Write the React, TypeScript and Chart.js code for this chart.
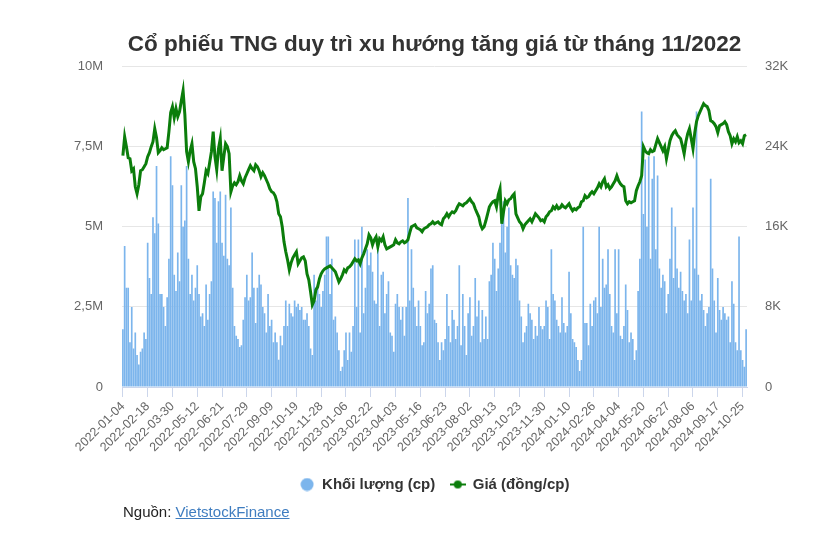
import React, { useEffect, useRef } from "react";
import { Chart, registerables } from "chart.js";

Chart.register(...registerables);

const title = "Cổ phiếu TNG duy trì xu hướng tăng giá từ tháng 11/2022";
const volumeLabel = "Khối lượng (cp)";
const priceLabel = "Giá (đồng/cp)";

// tick labels on the x axis, one every STEP sampled sessions
const tickDates = [
  "2022-01-04", "2022-02-18", "2022-03-30", "2022-05-12", "2022-06-21", "2022-07-29",
  "2022-09-09", "2022-10-19", "2022-11-28", "2023-01-06", "2023-02-22", "2023-04-03",
  "2023-05-16", "2023-06-23", "2023-08-02", "2023-09-13", "2023-10-23", "2023-11-30",
  "2024-01-10", "2024-02-26", "2024-04-04", "2024-05-20", "2024-06-27", "2024-08-06",
  "2024-09-17", "2024-10-25",
];
const STEP = 14;

// trading volume, millions of shares (sampled every 2nd session)
const volumeM = [
  1.8, 4.4, 3.1, 3.1, 1.4, 2.5, 1.2, 1.7, 1.0, 0.7, 1.1, 1.2, 1.7, 1.5, 4.5, 3.4, 2.9, 5.3, 4.8, 6.9,
  5.1, 2.9, 2.9, 2.5, 1.9, 2.8, 4.0, 7.2, 6.3, 3.5, 3.0, 4.2, 3.3, 6.3, 5.0, 5.2, 6.9, 4.0, 2.9, 3.5,
  2.7, 3.1, 3.8, 2.9, 2.2, 2.3, 1.9, 3.2, 2.1, 2.9, 3.3, 6.1, 5.9, 4.5, 5.8, 6.1, 4.5, 4.1, 6.0, 4.0,
  3.8, 5.6, 3.1, 1.9, 1.6, 1.5, 1.25, 1.3, 2.1, 2.8, 3.5, 2.7, 2.8, 4.2, 3.1, 2.0, 3.1, 3.5, 3.2, 2.5,
  2.3, 1.7, 2.9, 1.9, 2.1, 1.4, 1.7, 1.4, 0.85, 1.6, 1.3, 1.9, 2.7, 1.9, 2.6, 2.3, 2.2, 2.7, 2.5, 2.6,
  2.4, 2.5, 2.1, 2.1, 2.3, 1.9, 1.2, 1.0, 3.5, 2.7, 3.2, 2.9, 2.5, 3.0, 3.5, 4.7, 4.7, 2.9, 4.0, 2.1,
  2.2, 1.7, 1.15, 0.5, 0.63, 1.15, 1.7, 0.84, 1.7, 1.1, 1.9, 4.6, 2.5, 4.6, 1.7, 5.0, 2.3, 3.1, 4.3, 3.8,
  4.2, 3.6, 2.7, 2.6, 4.3, 1.9, 3.5, 3.6, 2.3, 2.9, 3.3, 1.7, 1.6, 1.1, 2.6, 2.9, 2.5, 2.1, 2.5, 1.6,
  2.5, 5.9, 2.7, 4.3, 3.1, 2.5, 1.9, 2.7, 1.9, 1.3, 1.4, 3.0, 2.3, 2.6, 3.7, 3.8, 2.1, 2.0, 1.4, 0.84,
  1.4, 1.15, 1.5, 2.9, 1.9, 1.4, 2.4, 2.1, 1.5, 1.9, 3.8, 1.3, 2.9, 1.9, 1.0, 2.3, 2.8, 1.6, 1.9, 3.4,
  2.2, 2.7, 1.4, 2.4, 1.5, 2.2, 1.5, 3.3, 3.5, 4.5, 4.0, 3.0, 3.7, 4.5, 5.1, 5.8, 4.2, 5.0, 5.6, 3.8,
  3.5, 3.4, 4.0, 3.8, 2.7, 2.2, 1.4, 1.7, 1.9, 2.6, 2.3, 2.1, 1.5, 1.9, 1.6, 2.5, 1.9, 1.8, 1.9, 2.7,
  2.5, 1.5, 4.3, 2.9, 2.7, 2.1, 1.9, 1.7, 2.8, 2.0, 1.7, 1.9, 3.6, 2.3, 1.5, 1.4, 1.25, 0.84, 0.5, 0.84,
  5.0, 2.0, 2.0, 1.3, 2.6, 1.9, 2.7, 2.8, 2.3, 5.0, 2.5, 4.0, 3.1, 3.2, 4.3, 2.9, 1.9, 1.7, 4.3, 2.3,
  4.3, 1.6, 1.5, 1.9, 3.2, 2.4, 1.4, 1.7, 1.5, 0.84, 1.15, 3.0, 4.0, 8.6, 5.4, 7.1, 5.0, 7.2, 4.0, 6.5,
  7.2, 4.3, 6.6, 3.7, 3.1, 3.5, 3.3, 2.3, 2.9, 4.0, 5.6, 3.4, 5.0, 3.7, 3.1, 3.6, 3.0, 2.7, 2.9, 2.3,
  4.6, 2.7, 5.6, 3.7, 8.6, 3.5, 2.7, 2.9, 2.4, 1.9, 2.3, 2.5, 6.5, 3.7, 2.7, 1.7, 3.4, 2.4, 2.1, 2.5,
  2.3, 2.1, 2.2, 1.4, 3.3, 2.6, 1.4, 1.15, 4.7, 1.15, 0.84, 0.63, 1.8,
];

// closing price, thousand đồng per share (same sessions)
const priceK = [
  23.1, 25.0, 24.0, 22.9, 22.8, 21.6, 21.8, 20.0, 19.3, 20.2, 21.6, 21.7, 22.0, 22.3, 23.0, 23.4, 24.0, 24.5, 25.8, 24.9,
  23.4, 23.6, 23.9, 23.7, 23.8, 23.9, 25.5, 27.4, 28.0, 26.9, 27.8, 27.0, 27.5, 28.6, 29.6, 27.2, 23.5, 22.5, 23.6, 24.3,
  22.5, 21.8, 20.0, 17.6, 19.0, 19.3, 20.4, 21.6, 21.3, 22.4, 23.5, 25.5, 23.0, 21.7, 23.8, 24.8, 21.6, 23.0, 24.3, 24.0,
  23.3, 19.5, 20.1, 20.4, 20.2, 20.5, 21.1, 20.6, 20.3, 20.9, 21.3, 21.7, 22.1, 21.8, 21.6, 22.2, 22.0, 21.6, 21.0, 21.4,
  21.1, 20.7, 20.3, 19.8, 19.5, 19.4, 19.1, 18.5, 17.3, 17.0, 16.0, 14.5, 13.5, 12.7, 11.7, 12.4, 12.9, 13.2, 13.5, 12.3,
  12.6, 12.9, 13.0, 12.6, 11.3, 10.7, 9.5, 8.2, 8.6, 9.7, 10.0, 10.8, 11.3, 11.6, 11.8, 11.9, 12.0, 12.1, 11.9, 11.7,
  11.5, 11.0, 10.5, 10.8, 11.2, 11.7, 11.5, 11.9, 12.0, 12.2, 12.5, 12.8, 12.6, 12.7, 12.3, 12.9, 13.3, 13.8, 14.3, 15.2,
  14.9, 14.2, 14.7, 15.0, 14.0, 14.8, 14.6, 15.0, 14.2, 13.8, 13.9, 14.0, 14.1, 14.2, 14.7, 14.4, 14.3, 14.5, 14.6, 14.4,
  14.5, 14.7, 15.4, 16.0, 16.1, 16.2, 15.9, 15.8, 15.7, 15.5, 15.8, 15.9, 16.0, 16.2, 16.3, 16.5, 16.3, 16.4, 16.5, 16.3,
  16.2, 16.8, 17.0, 17.3, 17.0, 17.3, 17.5, 17.4, 17.6, 18.0, 18.3, 18.2, 18.1, 18.3, 18.4, 18.6, 18.8, 18.5, 18.3, 17.8,
  17.4, 17.0, 16.2, 15.8, 16.0, 16.6, 17.3, 18.0, 18.3, 18.5, 18.6, 18.0, 19.2, 19.8, 16.3, 17.5, 18.6, 18.3, 18.7, 18.8,
  19.1, 19.3, 17.3, 16.9, 16.5, 16.3, 15.8, 16.2, 16.4, 16.6, 16.8, 16.5, 16.9, 17.3, 17.1, 16.9, 16.6, 16.7, 16.5, 17.0,
  17.2, 17.5, 17.6, 18.0, 17.8, 18.1, 17.8, 17.9, 18.2, 18.0, 17.9, 18.1, 18.3, 17.9, 17.6, 17.8, 17.7, 17.9, 18.0, 18.5,
  18.6, 19.1, 18.9, 19.0, 19.3, 19.5, 19.3, 19.6, 19.9, 20.3, 20.0, 20.5, 20.8, 20.0, 20.2, 19.8, 20.0, 20.3, 20.6, 21.1,
  20.6, 20.3, 20.1, 20.0, 18.6, 18.3, 18.5, 18.4, 18.5, 18.6, 19.6, 20.1, 20.5, 21.1, 24.0, 23.6, 23.4, 23.3, 23.7, 23.5,
  23.6, 24.2, 24.8, 24.4, 24.0, 23.6, 24.0, 22.8, 23.7, 24.6, 25.1, 25.4, 25.6, 25.2, 25.0, 24.8, 24.1, 23.3, 24.5, 25.3,
  25.8, 24.8, 23.8, 25.4, 26.5, 27.1, 27.5, 27.9, 28.3, 28.1, 28.0, 27.6, 26.6, 26.5, 26.3, 26.0, 25.4, 26.1, 26.2, 26.3,
  26.5, 26.2, 25.5, 25.1, 24.3, 24.8, 24.5, 25.0, 24.4, 24.6, 24.3, 25.1, 25.2,
];

const volTicks = [0, 2.5, 5, 7.5, 10];
const priceTicks = [0, 8, 16, 24, 32];

const BAR = "#7cb5ec";
const LINE = "#0b7d0b";
const FONT = "'Liberation Sans', Arial, sans-serif";

function circleIcon(color: string, d: number) {
  const c = document.createElement("canvas");
  c.width = d; c.height = d;
  const g = c.getContext("2d")!;
  g.fillStyle = color;
  g.beginPath(); g.arc(d / 2, d / 2, d / 2 - 0.5, 0, Math.PI * 2); g.fill();
  return c;
}
function lineIcon(color: string) {
  const c = document.createElement("canvas");
  c.width = 16; c.height = 10;
  const g = c.getContext("2d")!;
  g.strokeStyle = color; g.lineWidth = 2;
  g.beginPath(); g.moveTo(0, 5); g.lineTo(16, 5); g.stroke();
  g.fillStyle = color;
  g.beginPath(); g.arc(8, 5, 4, 0, Math.PI * 2); g.fill();
  return c;
}

export default function App() {
  const ref = useRef<HTMLCanvasElement>(null);
  useEffect(() => {
    if (!ref.current) return;
    const labels = volumeM.map((_, i) => (i % STEP === 0 && tickDates[i / STEP]) ? tickDates[i / STEP] : "");
    const icons = [circleIcon(BAR, 14), lineIcon(LINE)];
    const chart = new Chart(ref.current, {
      type: "bar",
      data: {
        labels,
        datasets: [
          {
            type: "bar",
            label: volumeLabel,
            data: volumeM,
            backgroundColor: BAR,
            borderWidth: 0,
            barPercentage: 0.95,
            categoryPercentage: 1,
            yAxisID: "y",
            order: 1,
          },
          {
            type: "line",
            label: priceLabel,
            data: priceK,
            borderColor: LINE,
            backgroundColor: LINE,
            borderWidth: 3,
            pointRadius: 0,
            tension: 0,
            yAxisID: "y1",
            order: 0,
          },
        ] as any,
      },
      options: {
        responsive: false,
        animation: false,
        layout: { padding: { top: 0, bottom: 6, left: 0, right: 0 } },
        plugins: {
          tooltip: { enabled: false },
          title: {
            display: true,
            text: title,
            fullSize: false,
            color: "#333333",
            font: { family: FONT, size: 22.5, weight: "bold" },
            padding: { top: 22.8, bottom: 8.8 },
          },
          legend: {
            position: "bottom",
            fullSize: false,
            labels: {
              usePointStyle: true,
              pointStyleWidth: 15,
              padding: 15,
              color: "#333333",
              font: { family: FONT, size: 15, weight: "bold" },
              sort: (a: any, b: any) => a.datasetIndex - b.datasetIndex,
              generateLabels: (ch: any) => {
                const items = Chart.defaults.plugins.legend.labels.generateLabels(ch);
                items.forEach((it: any) => { it.pointStyle = icons[it.datasetIndex]; });
                return items;
              },
            },
          },
        },
        scales: {
          x: {
            offset: true,
            grid: { display: true, drawOnChartArea: false, drawTicks: true, tickLength: 10, color: "#ccd6eb", offset: false },
            border: { display: true, color: "#ccd6eb" },
            ticks: {
              autoSkip: false,
              minRotation: 45,
              maxRotation: 45,
              padding: 2,
              color: "#666666",
              font: { family: FONT, size: 12.5 },
              callback: function (this: any, v: any, i: number) {
                const l = labels[i];
                return l ? l : null;
              },
            },
            afterFit: (s: any) => { s.height = 75; },
          },
          y: {
            position: "left",
            min: 0,
            max: 10,
            afterBuildTicks: (s: any) => { s.ticks = volTicks.map((v) => ({ value: v })); },
            grid: { color: "#e6e6e6", drawTicks: false },
            border: { display: false },
            ticks: {
              padding: 19,
              color: "#666666",
              font: { family: FONT, size: 13 },
              callback: (v: any) => (v === 0 ? "0" : String(v).replace(".", ",") + "M"),
            },
            afterFit: (s: any) => { s.width = 114; },
          },
          y1: {
            position: "right",
            min: 0,
            max: 32,
            afterBuildTicks: (s: any) => { s.ticks = priceTicks.map((v) => ({ value: v })); },
            grid: { drawOnChartArea: false, drawTicks: false },
            border: { display: false },
            ticks: {
              padding: 18,
              color: "#666666",
              font: { family: FONT, size: 13 },
              callback: (v: any) => (v === 0 ? "0" : v + "K"),
            },
            afterFit: (s: any) => { s.width = 61; },
          },
        },
      } as any,
    });
    return () => chart.destroy();
  }, []);

  return (
    <div style={{ position: "relative", width: 800, height: 520 }}>
      <canvas ref={ref} width={800} height={500} style={{ display: "block" }} />
      <div
        style={{
          position: "absolute",
          left: 115,
          top: 495,
          fontFamily: FONT,
          fontSize: 15,
          lineHeight: "17px",
          color: "#222222",
          whiteSpace: "nowrap",
        }}
      >
        Nguồn: <a href="#" style={{ color: "#3f7dc0", textDecoration: "underline" }}>VietstockFinance</a>
      </div>
    </div>
  );
}
